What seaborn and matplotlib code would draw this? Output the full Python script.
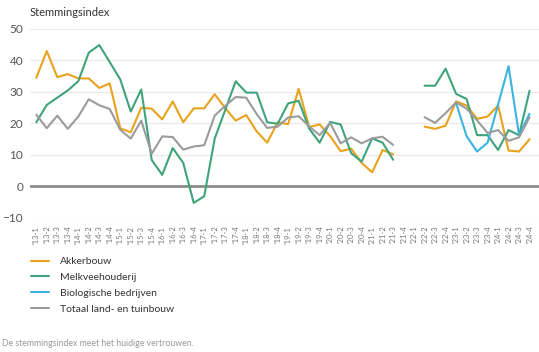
import numpy as np
import pandas as pd
import matplotlib
matplotlib.use("Agg")
import matplotlib.pyplot as plt
import seaborn as sns

sns.set_style("white")
plt.rcParams['font.family'] = ['Lato', 'DejaVu Sans']

# Quarters '13-1 .. '24-4
quarters = [f"'{y}-{q}" for y in range(13, 25) for q in range(1, 5)]

# first block '13-1 .. '21-3, second block '22-2 .. '24-4
akker_a = [34.5, 43, 34.7, 35.7, 34.3, 34.3, 31.3, 32.7, 18.5, 17.2, 25, 24.7,
           21.3, 27, 20.4, 24.8, 24.8, 29.3, 24.9, 20.9, 22.7, 17.5, 13.9, 20.4,
           19.8, 31, 18.9, 19.7, 16, 11.2, 12, 7.5, 4.5, 11.6, 10.2]
akker_b = [19, 18.3, 19.3, 27, 25.7, 21.5, 22.2, 25.7, 11.4, 11.1, 15]

melk_a = [20.4, 25.9, 28.2, 30.5, 33.4, 42.5, 44.9, 39.5, 34, 23.8, 30.8, 8.4,
          3.7, 12.2, 7.5, -5.2, -3.1, 15.2, 24.3, 33.4, 29.8, 29.8, 20.4, 19.9,
          26.4, 27.2, 18.4, 13.9, 20.5, 19.7, 10.6, 7.9, 15.3, 13.9, 8.5]
melk_b = [32, 32, 37.4, 29.4, 27.8, 16.3, 16.3, 11.6, 17.9, 16.3, 30.4]

# biologisch only from '23-1
bio_b = [26.5, 16, 11.1, 13.9, 26, 38.2, 16.3, 23.1]

totaal_a = [22.8, 18.5, 22.5, 18.3, 22.2, 27.7, 25.8, 24.6, 18, 15.2, 20.9, 10.4,
            15.9, 15.7, 11.7, 12.7, 13.1, 22.5, 25.6, 28.4, 28.2, 23, 18.6, 19,
            21.9, 22.3, 19.1, 16.3, 20.2, 13.7, 15.6, 13.7, 15.3, 15.8, 13.2]
totaal_b = [22, 20.2, 23.3, 26.7, 24.7, 21, 17, 17.9, 14.5, 15.6, 22]

series_names = ["Akkerbouw", "Melkveehouderij", "Biologische bedrijven", "Totaal land- en tuinbouw"]
colors = ["#E9A21C", "#3FA37B", "#3CB4E0", "#9B9B9B"]

blocks = [
    ("Akkerbouw", akker_a, "'13-1"), ("Akkerbouw", akker_b, "'22-2"),
    ("Melkveehouderij", melk_a, "'13-1"), ("Melkveehouderij", melk_b, "'22-2"),
    ("Biologische bedrijven", bio_b, "'23-1"),
    ("Totaal land- en tuinbouw", totaal_a, "'13-1"), ("Totaal land- en tuinbouw", totaal_b, "'22-2"),
]
rows = []
for seg, (name, vals, start) in enumerate(blocks):
    s = quarters.index(start)
    for k, v in enumerate(vals):
        rows.append({"pos": s + k, "val": v, "series": name, "seg": seg})
df = pd.DataFrame(rows)

fig = plt.figure(figsize=(5.39, 3.52), dpi=100)
ax = fig.add_axes([30 / 539, 1 - 218 / 352, 509 / 539, (218 - 29) / 352])

ax.set_ylim(-10, 50)
ax.set_yticks([-10, 0, 10, 20, 30, 40, 50])
ax.grid(axis='y', color='#e8e8e8', linewidth=0.8)
ax.set_axisbelow(True)
ax.axhline(0, color='#8c8c8c', linewidth=2, zorder=1)

sns.lineplot(data=df, x="pos", y="val", hue="series", units="seg", estimator=None,
             hue_order=series_names, palette=colors, linewidth=1.5, ax=ax, zorder=3)

ax.set_xlim(-0.6, 47.9)
ax.set_xticks(range(len(quarters)))
ax.set_xticklabels(quarters, rotation=90, fontsize=5.5, color='#777777')
ax.tick_params(axis='x', length=0, pad=5.5)
ax.tick_params(axis='y', length=0, pad=5, labelsize=8.5, labelcolor='#555555')
ax.set_xlabel("")
ax.set_ylabel("")
for sp in ax.spines.values():
    sp.set_visible(False)

handles, labels = ax.get_legend_handles_labels()
ax.get_legend().remove()
fig.legend(handles, labels, loc='upper left', bbox_to_anchor=(31 / 539, 1 - 257 / 352),
           frameon=False, fontsize=7.5, handlelength=1.7, handletextpad=1.1,
           labelspacing=0.62, borderpad=0, borderaxespad=0, labelcolor='#333333')

fig.text(30 / 539, 1 - 12 / 352, "Stemmingsindex", fontsize=8, color='#333333', va='center')
fig.text(2 / 539, 1 - 343 / 352, "De stemmingsindex meet het huidige vertrouwen.",
         fontsize=6.3, color='#999999', va='center')

fig.savefig("out.png", dpi=100)
